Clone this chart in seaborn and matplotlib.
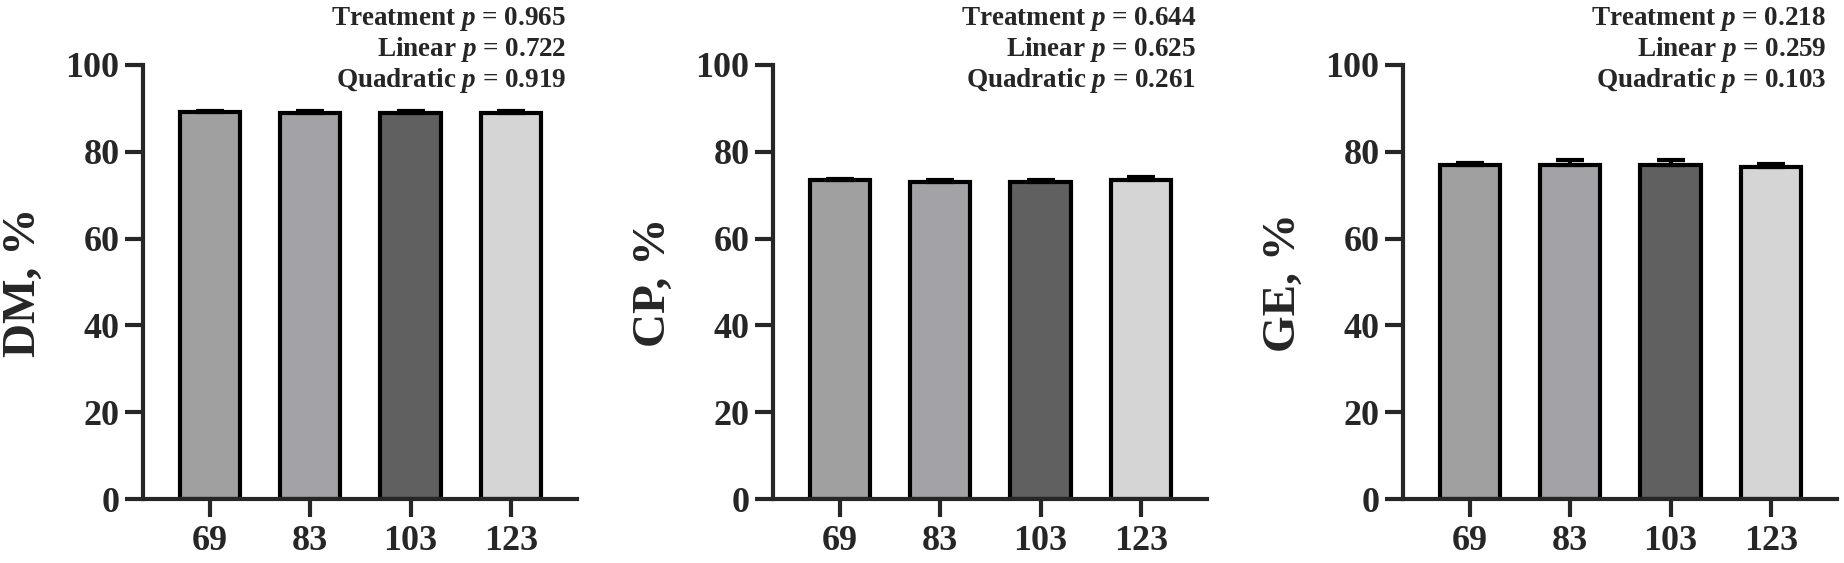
# Digestibility of DM, CP and GE across four dietary levels - GraphPad-style grey bars with SE and p-values.

import numpy as np
import pandas as pd
import matplotlib
matplotlib.use("Agg")
import matplotlib.pyplot as plt
import seaborn as sns

# Data
levels = ["69", "83", "103", "123"]
dm_mean = [89.1, 89.0, 89.0, 89.0]
dm_se = [0.35, 0.35, 0.35, 0.35]
cp_mean = [73.4, 73.0, 73.0, 73.4]
cp_se = [0.35, 0.45, 0.45, 0.75]
ge_mean = [77.0, 77.0, 77.0, 76.5]
ge_se = [0.5, 1.0, 1.0, 0.6]

ylabels = ["DM, %", "CP, %", "GE, %"]
p_treatment = ["0.965", "0.644", "0.218"]
p_linear = ["0.722", "0.625", "0.259"]
p_quadratic = ["0.919", "0.261", "0.103"]

bar_colors = ["#a0a0a0", "#a3a2a7", "#606060", "#d5d5d5"]

# Style
sns.set_style("ticks")
plt.rcParams["font.family"] = ["Liberation Serif", "DejaVu Serif"]
plt.rcParams["font.weight"] = "bold"
plt.rcParams["mathtext.fontset"] = "custom"
plt.rcParams["mathtext.it"] = "Liberation Serif:italic:bold"
plt.rcParams["mathtext.rm"] = "Liberation Serif:bold"

W, H = 1844, 563
fig = plt.figure(figsize=(W / 100, H / 100), dpi=100)

lefts = [143, 773, 1403]
y_top, y_bottom = 65, 499
panels = [(dm_mean, dm_se), (cp_mean, cp_se), (ge_mean, ge_se)]

for i, (means, ses) in enumerate(panels):
    ax = fig.add_axes([lefts[i] / W, (H - y_bottom) / H, 434 / W, (y_bottom - y_top) / H])
    df = pd.DataFrame({"level": levels, "value": means})
    sns.barplot(data=df, x="level", y="value", hue="level", palette=bar_colors,
                width=0.6, edgecolor="black", linewidth=3, legend=False, ax=ax,
                saturation=1, zorder=2)
    ax.errorbar(np.arange(len(levels)), means, yerr=[np.zeros(len(ses)), ses],
                fmt="none", ecolor="black", elinewidth=3, capsize=10, capthick=3, zorder=3)

    ax.set_xlim(-0.668, 3.66)
    ax.set_ylim(0, 100)
    ax.set_yticks([0, 20, 40, 60, 80, 100])
    ax.set_xlabel("")
    ax.set_ylabel(ylabels[i], fontsize=34, fontweight="bold")
    ax.yaxis.set_label_coords(-0.275, 0.5)
    ax.yaxis.label.set_va("center")

    sns.despine(ax=ax)
    for side in ["left", "bottom"]:
        ax.spines[side].set_linewidth(3)
    ax.tick_params(axis="both", direction="out", length=13, width=3, labelsize=26)
    ax.tick_params(axis="y", pad=4)
    ax.tick_params(axis="x", pad=6)
    for lab in ax.get_xticklabels() + ax.get_yticklabels():
        lab.set_fontweight("bold")

    # p-values, right aligned above the plot
    ax.text(0.975, 1.092, f"Treatment $p$ = {p_treatment[i]}", transform=ax.transAxes,
            ha="right", va="baseline", fontsize=19.5, fontweight="bold")
    ax.text(0.975, 1.021, f"Linear $p$ = {p_linear[i]}", transform=ax.transAxes,
            ha="right", va="baseline", fontsize=19.5, fontweight="bold")
    ax.text(0.975, 0.949, f"Quadratic $p$ = {p_quadratic[i]}", transform=ax.transAxes,
            ha="right", va="baseline", fontsize=19.5, fontweight="bold")

fig.savefig("out.png", dpi=100)
plt.close(fig)
